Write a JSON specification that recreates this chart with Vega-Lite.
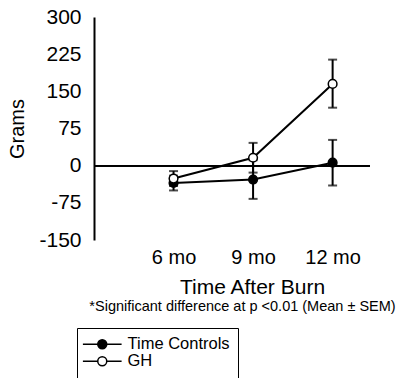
{
  "$schema": "https://vega.github.io/schema/vega-lite/v6.json",
  "width": 276,
  "height": 223,
  "autosize": {"type": "none"},
  "padding": {"left": 94, "top": 17, "right": 43, "bottom": 138},
  "background": "white",
  "config": {
    "view": {"stroke": null},
    "font": "Liberation Sans",
    "axis": {"grid": false},
    "axisY": {
      "labelOverlap": false,
      "labelExpr": "'' + datum.value",
      "ticks": false,
      "domain": true,
      "domainColor": "black",
      "domainWidth": 2,
      "labelFontSize": 21,
      "labelColor": "black",
      "labelPadding": 13,
      "titleFontSize": 20,
      "titleFontWeight": "normal",
      "titleColor": "black",
      "titlePadding": 11
    }
  },
  "data": {
    "values": [
      {"time": 1, "series": "Time Controls", "mean": -35, "lo": -50, "hi": -20},
      {"time": 2, "series": "Time Controls", "mean": -28, "lo": -67, "hi": 11},
      {"time": 3, "series": "Time Controls", "mean": 6, "lo": -40, "hi": 52},
      {"time": 1, "series": "GH", "mean": -26, "lo": -41, "hi": -11},
      {"time": 2, "series": "GH", "mean": 16, "lo": -14, "hi": 46},
      {"time": 3, "series": "GH", "mean": 165, "lo": 117, "hi": 214}
    ]
  },
  "resolve": {"axis": {"x": "independent"}},
  "layer": [
    {
      "mark": {"type": "rule", "stroke": "black", "strokeWidth": 1.5},
      "encoding": {
        "x": {
          "datum": 0,
          "type": "quantitative",
          "scale": {"domain": [0, 3.47], "nice": false, "zero": false},
          "axis": {
            "orient": "bottom",
            "labels": false,
            "domain": false,
            "ticks": false,
            "title": "*Significant difference at p <0.01 (Mean ± SEM)",
            "titleFontSize": 14.5,
            "titleFontWeight": "normal",
            "titleColor": "black",
            "titleX": 148,
            "titleY": 59
          }
        },
        "x2": {"datum": 3.47},
        "y": {
          "datum": 0,
          "type": "quantitative",
          "title": "Grams",
          "scale": {"domain": [-150, 300], "nice": false, "zero": false},
          "axis": {"values": [-150, -75, 0, 75, 150, 225, 300]}
        }
      }
    },
    {
      "encoding": {
        "x": {
          "field": "time",
          "type": "quantitative",
          "scale": {"domain": [0, 3.47], "nice": false, "zero": false},
          "axis": {
            "orient": "bottom",
            "values": [1, 2, 3],
            "labelExpr": "datum.value == 1 ? '6 mo' : datum.value == 2 ? '9 mo' : '12 mo'",
            "domain": false,
            "ticks": false,
            "labelFontSize": 20,
            "labelColor": "black",
            "labelPadding": 7,
            "title": "Time After Burn",
            "titleFontSize": 21,
            "titleFontWeight": "normal",
            "titleColor": "black",
            "titleX": 158,
            "titleY": 36
          }
        },
        "y": {
          "field": "mean",
          "type": "quantitative",
          "title": "Grams",
          "scale": {"domain": [-150, 300], "nice": false, "zero": false},
          "axis": {"values": [-150, -75, 0, 75, 150, 225, 300]}
        }
      },
      "layer": [
        {
          "mark": {"type": "line", "stroke": "black", "strokeWidth": 2},
          "encoding": {"detail": {"field": "series"}}
        },
        {
          "mark": {"type": "rule", "stroke": "black", "strokeWidth": 2},
          "encoding": {
            "y": {"field": "lo", "type": "quantitative", "title": "Grams"},
            "y2": {"field": "hi"}
          }
        },
        {
          "mark": {"type": "tick", "orient": "horizontal", "color": "black", "size": 9, "thickness": 2},
          "encoding": {"y": {"field": "lo", "type": "quantitative", "title": "Grams"}}
        },
        {
          "mark": {"type": "tick", "orient": "horizontal", "color": "black", "size": 9, "thickness": 2},
          "encoding": {"y": {"field": "hi", "type": "quantitative", "title": "Grams"}}
        },
        {
          "mark": {"type": "point", "filled": true, "stroke": "black", "strokeWidth": 1.5, "size": 75, "opacity": 1},
          "encoding": {
            "fill": {
              "field": "series",
              "type": "nominal",
              "scale": {"domain": ["Time Controls", "GH"], "range": ["black", "white"]},
              "legend": {
                "orient": "none",
                "legendX": -17,
                "legendY": 311,
                "title": null,
                "strokeColor": "black",
                "padding": 8,
                "symbolType": "M-4.3,0H-1M1,0H4.3M1,0A1,1 0 1,1 -1,0A1,1 0 1,1 1,0Z",
                "symbolSize": 81,
                "symbolStrokeColor": "black",
                "symbolStrokeWidth": 1.5,
                "symbolOffset": 9,
                "labelOffset": 17,
                "labelFontSize": 16.5,
                "labelFont": "Liberation Sans",
                "labelColor": "black",
                "rowPadding": 0
              }
            }
          }
        }
      ]
    }
  ]
}
